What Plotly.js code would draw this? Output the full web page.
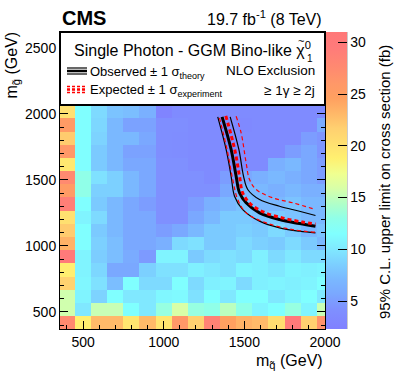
<!DOCTYPE html>
<html>
<head>
<meta charset="utf-8">
<script src="https://cdn.plot.ly/plotly-3.0.1.min.js"></script>
<style>
  body { margin: 0; background: #fff; }
  #chart { width: 399px; height: 383px; }
</style>
</head>
<body>
<div id="chart"></div>
<script>
// grid of signal points (GeV)
const squarkMass = [400, 500, 600, 700, 800, 900, 1000, 1100, 1200, 1300, 1400, 1500, 1600, 1700, 1800, 1900, 2000];
const gluinoMass = [415, 515, 615, 715, 815, 915, 1015, 1115, 1215, 1315, 1415, 1515, 1615, 1715, 1815, 1915, 2015];

// 95% CL upper limit (fb), one row per gluino mass, bottom row first
const upperLimit = [
    [27.5, 18.8, 23, 23, 19.8, 23, 19.8, 26, 21.7, 28.5, 24.6, 23.5, 23, 20.5, 29.6, 21.7, 26.5],
    [15.6, 10, 15.3, 15.3, 11.5, 10, 13.3, 15.9, 13.3, 13, 14.8, 13, 10.8, 11.5, 13.3, 10.8, 15.3],
    [15.6, 10.8, 8.8, 11.5, 10, 10, 11, 11.2, 9.6, 11.5, 10, 11.5, 11.5, 10, 10.8, 11.5, 10],
    [21.5, 11, 9.6, 7.5, 11.5, 9.2, 9.2, 11.5, 9.2, 10.5, 10.8, 9.2, 10.5, 10.8, 10.5, 10.8, 11.5],
    [19, 10.8, 9, 5.7, 5.7, 8.6, 9.6, 9.6, 10.5, 10, 9.6, 10.8, 10.5, 10, 10.8, 10.5, 10.8],
    [29.6, 10.8, 8.4, 7.5, 6, 4.8, 10.8, 10.8, 8.2, 9.2, 9.6, 9.2, 10.5, 9.2, 10, 9.2, 9.2],
    [23.5, 11.5, 8.6, 7.5, 5.7, 5.7, 6.4, 9.2, 9.6, 8.2, 8.2, 9.2, 8.6, 8.2, 9.2, 8.2, 7.1],
    [22, 11.5, 8.2, 7.1, 5.7, 5.7, 5, 5.7, 7.1, 8.2, 8.2, 8.6, 8.2, 9.2, 8.2, 7.1, 7.8],
    [20.2, 10.8, 9.2, 7.1, 5.7, 5.7, 4.2, 4.2, 5.7, 7.1, 8.2, 8.2, 7.8, 8.2, 7.8, 7.1, 7.1],
    [29, 11.5, 8.2, 7.1, 5.7, 5, 4.2, 4.2, 5, 6.4, 7.1, 7.8, 7.1, 7.1, 7.8, 7.1, 7.1],
    [25.5, 13, 8.6, 8.6, 7.1, 5.7, 4.2, 4.2, 4.2, 4.2, 5.7, 7.1, 7.1, 6.4, 7.1, 6.4, 6.4],
    [27.5, 13, 9.6, 8.6, 7.1, 5.7, 4.2, 4.2, 4.2, 3.6, 5, 5.7, 6.4, 7.1, 6.4, 5.7, 5],
    [19.5, 11.5, 8.2, 7.1, 5.7, 5.7, 4.2, 4.2, 3.6, 3.6, 3.6, 3.6, 3.6, 6.4, 7.1, 5.7, 5],
    [26, 11.5, 8.2, 7.1, 5.3, 5.3, 4, 3.8, 3.6, 3.6, 3.6, 3.6, 3.6, 3.6, 5, 5.7, 4.5],
    [22, 11.5, 8.8, 7.1, 7.1, 5.7, 4, 3.8, 3.6, 3.6, 3.6, 3.6, 3.6, 3.6, 3.6, 5, 4.5],
    [25.5, 11.5, 9, 7.1, 5.3, 5.3, 4, 4, 3.6, 3.6, 3.6, 3.4, 3.6, 3.6, 3.6, 3.6, 6],
    [20.2, 11.5, 9.2, 7.8, 7.5, 6.4, 2.8, 3.6, 3.6, 3.6, 3.6, 3.6, 3.6, 3.6, 3.6, 3.6, 3.6]
];

// exclusion contours
const obsX = [1362, 1418, 1449, 1470, 1511, 1594, 1718, 1842, 1941];
const obsY = [1977, 1730, 1527, 1402, 1326, 1250, 1199, 1169, 1148];
const obsUpX = [1412, 1466, 1495, 1521, 1594, 1718, 1842, 1941];
const obsUpY = [1977, 1730, 1527, 1427, 1351, 1300, 1262, 1230];
const obsDownX = [1335, 1387, 1418, 1439, 1490, 1594, 1718, 1842, 1941];
const obsDownY = [1977, 1730, 1527, 1376, 1275, 1187, 1136, 1111, 1098];
const expX = [1385, 1440, 1470, 1490, 1535, 1620, 1740, 1860, 1941];
const expY = [1985, 1730, 1527, 1400, 1320, 1255, 1210, 1180, 1165];
const expUpX = [1449, 1480, 1511, 1532, 1573, 1676, 1800, 1941];
const expUpY = [1982, 1856, 1629, 1502, 1427, 1364, 1326, 1275];
const expDownX = [1346, 1397, 1428, 1459, 1511, 1635, 1800, 1941];
const expDownY = [1970, 1705, 1502, 1351, 1250, 1174, 1123, 1103];

const colorTicks = [5, 10, 15, 20, 25, 30];
const zMin = 2.3;
const zMax = 31;

// pastel rainbow like the ROOT palette
const paletteValues = [2.3, 4.2, 5.7, 7.1, 8.6, 10, 11.5, 13, 14.4, 15.9, 17.3, 18.8, 20.2, 21.7, 23.1, 24.6, 26, 27.5, 29.6, 31];
const paletteColors = ['#8080ff', '#7f90ff', '#7aa8ff', '#7ab8ff', '#7cd0ff', '#80e8ff', '#80ffff', '#90ffe8', '#b0ffc8', '#d8ffa8',
    '#f0ff90', '#fff070', '#ffe070', '#ffd070', '#ffb868', '#ffa060', '#ff9868', '#ff8a70', '#ff7a7a', '#ff7878'];

const FONT = 'Liberation Sans, Arial, sans-serif';

// pixel -> paper helpers (plot area 60..325 x 32..329)
function fx(px) { return (px - 60) / 265; }
function fy(py) { return (329 - py) / 297; }

function small(t) { return '<span style="font-size:9px">' + t + '</span>'; }

function draw() {
    const colorscale = paletteValues.map(function(v, i) {
        return [(v - zMin) / (zMax - zMin), paletteColors[i]];
    });

    const heat = {
        type: 'heatmap',
        x: squarkMass,
        y: gluinoMass,
        z: upperLimit,
        zmin: zMin,
        zmax: zMax,
        colorscale: colorscale,
        hoverinfo: 'skip',
        colorbar: {
            x: fx(326), xanchor: 'left', xpad: 0,
            y: 0.5, yanchor: 'middle', ypad: 0,
            len: 1, lenmode: 'fraction',
            thickness: 21, thicknessmode: 'pixels',
            outlinewidth: 0,
            tickvals: colorTicks,
            ticks: 'inside', ticklen: 9, tickcolor: '#000',
            tickfont: { family: FONT, size: 14, color: '#000' }
        }
    };

    function line(x, y, color, width, dash) {
        return {
            type: 'scatter', mode: 'lines', x: x, y: y,
            line: { color: color, width: width, dash: dash, shape: 'spline' },
            hoverinfo: 'skip', showlegend: false
        };
    }

    const traces = [
        heat,
        line(obsUpX, obsUpY, '#000', 1.2, 'solid'),
        line(obsDownX, obsDownY, '#000', 1.2, 'solid'),
        line(expUpX, expUpY, '#ff0000', 1.2, '4px,3px'),
        line(expDownX, expDownY, '#ff0000', 1.2, '4px,3px'),
        line(obsX, obsY, '#000', 3, 'solid'),
        line(expX, expY, '#ff0000', 3, '4px,3px')
    ];

    const shapes = [
        // legend box
        { type: 'rect', xref: 'paper', yref: 'paper', x0: 0, x1: 1, y0: fy(105), y1: 1,
          fillcolor: '#fff', line: { color: '#000', width: 2 }, layer: 'above' },
        // observed sample
        { type: 'line', xref: 'paper', yref: 'paper', x0: fx(67), x1: fx(87), y0: fy(68), y1: fy(68), line: { color: '#000', width: 1.2 }, layer: 'above' },
        { type: 'line', xref: 'paper', yref: 'paper', x0: fx(67), x1: fx(87), y0: fy(71), y1: fy(71), line: { color: '#000', width: 2.5 }, layer: 'above' },
        { type: 'line', xref: 'paper', yref: 'paper', x0: fx(67), x1: fx(87), y0: fy(74), y1: fy(74), line: { color: '#000', width: 1.2 }, layer: 'above' },
        // expected sample
        { type: 'line', xref: 'paper', yref: 'paper', x0: fx(67), x1: fx(87), y0: fy(86.5), y1: fy(86.5), line: { color: '#ff0000', width: 1.5, dash: '3px,2px' }, layer: 'above' },
        { type: 'line', xref: 'paper', yref: 'paper', x0: fx(67), x1: fx(87), y0: fy(89.5), y1: fy(89.5), line: { color: '#ff0000', width: 2.5, dash: '3px,2px' }, layer: 'above' },
        { type: 'line', xref: 'paper', yref: 'paper', x0: fx(67), x1: fx(87), y0: fy(92.5), y1: fy(92.5), line: { color: '#ff0000', width: 1.5, dash: '3px,2px' }, layer: 'above' },
        // right edge of the colour bar
        { type: 'line', xref: 'paper', yref: 'paper', x0: fx(347), x1: fx(347), y0: 0, y1: 1, line: { color: '#999', width: 1 } }
    ];

    function note(text, x, y, size, xanchor, extra) {
        const a = {
            text: text, xref: 'paper', yref: 'paper', x: x, y: y,
            xanchor: xanchor, yanchor: 'middle', showarrow: false,
            font: { family: FONT, size: size, color: '#000' }
        };
        return Object.assign(a, extra || {});
    }

    const annotations = [
        note('<b>CMS</b>', fx(60), fy(18), 20, 'left'),
        note('19.7 fb<sup>-1</sup> (8 TeV)', fx(324), fy(18), 16, 'right'),
        note('Single Photon - GGM Bino-like χ<sup>0</sup>', fx(313), fy(49), 16, 'right'),
        note('~', fx(301), fy(41), 11, 'center'),
        note('1', fx(305), fy(58), 10, 'left'),
        note('Observed ± 1 σ<sub>' + small('theory') + '</sub>', fx(88), fy(72), 13, 'left'),
        note('Expected ± 1 σ<sub>' + small('experiment') + '</sub>', fx(88), fy(90), 13, 'left'),
        note('NLO Exclusion', fx(317), fy(71), 13.5, 'right'),
        note('≥ 1γ ≥ 2j', fx(317), fy(90), 13.5, 'right'),
        note('m<sub>q̃</sub> (GeV)', 1, fy(361), 16, 'right'),
        note('m<sub>g̃</sub> (GeV)', fx(12), fy(30), 16, 'center', { textangle: -90, yanchor: 'top' }),
        note('95% C.L. upper limit on cross section (fb)', fx(385), fy(182), 15, 'center', { textangle: -90 })
    ];

    const axisCommon = {
        showline: true, linecolor: '#000', linewidth: 1, mirror: 'allticks',
        ticks: 'inside', ticklen: 8, tickcolor: '#000', tickwidth: 1,
        showgrid: false, zeroline: false,
        tickfont: { family: FONT, size: 14, color: '#000' },
        minor: { ticks: 'inside', ticklen: 4, dtick: 100, tickcolor: '#000', showgrid: false }
    };

    const layout = {
        width: 399, height: 383,
        margin: { l: 60, r: 74, t: 32, b: 54 },
        paper_bgcolor: '#fff', plot_bgcolor: '#fff',
        showlegend: false,
        xaxis: Object.assign({}, axisCommon, { range: [357, 2000], tickvals: [500, 1000, 1500, 2000] }),
        yaxis: Object.assign({}, axisCommon, { range: [370, 2620], tickvals: [500, 1000, 1500, 2000, 2500] }),
        shapes: shapes,
        annotations: annotations
    };

    Plotly.newPlot('chart', traces, layout, { displayModeBar: false, staticPlot: true });
}

window.onload = draw;
</script>
</body>
</html>
